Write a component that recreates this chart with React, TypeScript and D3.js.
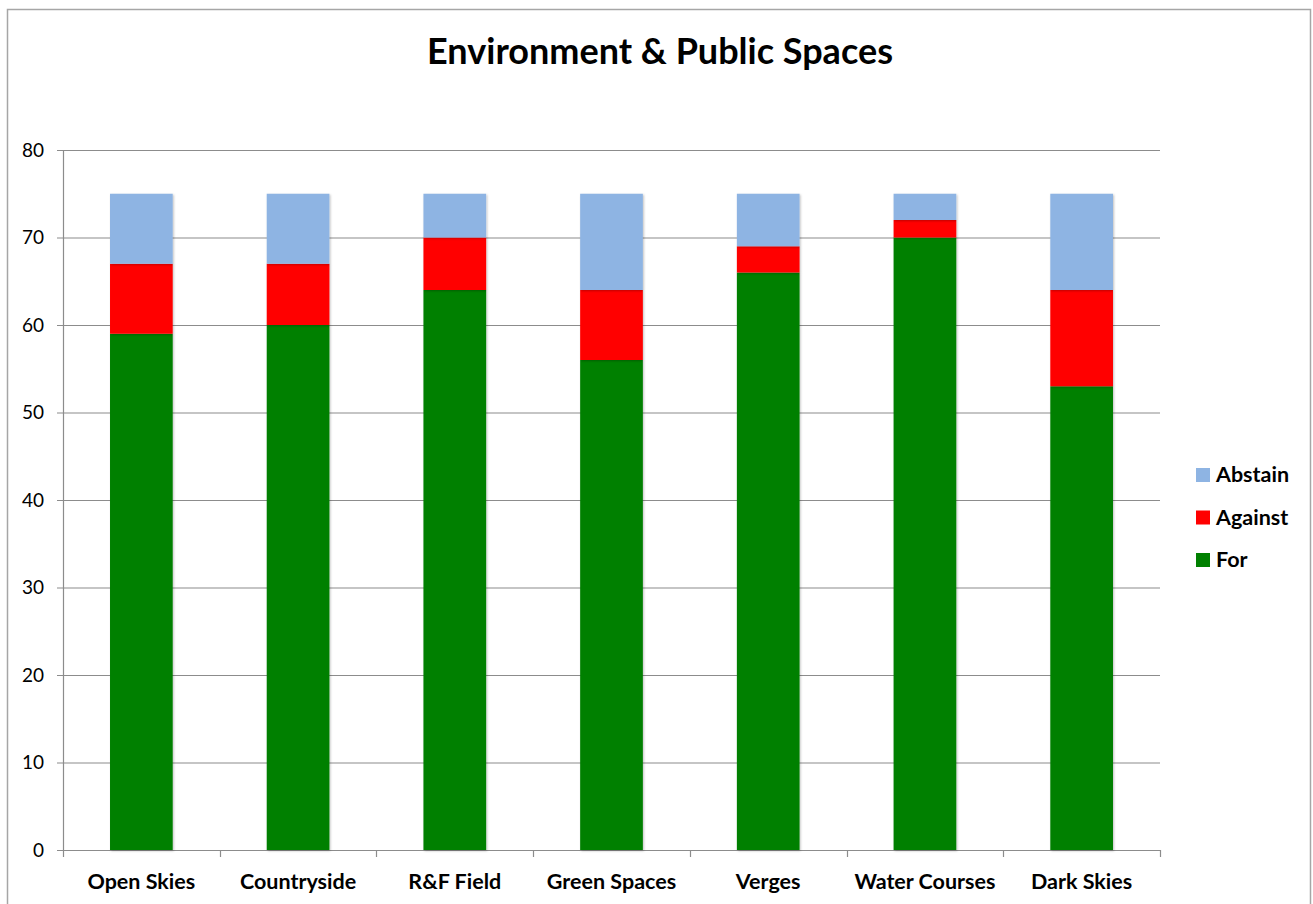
import * as d3 from "d3";
import { useEffect, useRef } from "react";

const categories = ["Open Skies", "Countryside", "R&F Field", "Green Spaces", "Verges", "Water Courses", "Dark Skies"];
const forValues = [59, 60, 64, 56, 66, 70, 53];
const againstValues = [8, 7, 6, 8, 3, 2, 11];
const abstainValues = [8, 8, 5, 11, 6, 3, 11];
const seriesNames = ["For", "Against", "Abstain"];
const seriesColors = ["#008000", "#ff0000", "#8eb4e3"];
const yTicks = [0, 10, 20, 30, 40, 50, 60, 70, 80];

function App() {
	const ref = useRef<SVGSVGElement>(null);

	useEffect(() => {
		const svg = d3.select(ref.current);
		svg.selectAll("*").remove();
		const font = "Lato, 'Open Sans', sans-serif";

		// outer chart border
		svg.append("rect")
			.attr("x", 7.5)
			.attr("y", 9.5)
			.attr("width", 1303)
			.attr("height", 910)
			.attr("fill", "white")
			.attr("stroke", "#a6a6a6")
			.attr("stroke-width", 1.5);

		svg.append("text")
			.attr("x", 660)
			.attr("y", 64)
			.attr("text-anchor", "middle")
			.style("font-family", font)
			.style("font-weight", "bold")
			.style("font-size", "36px")
			.text("Environment & Public Spaces");

		const left = 63;
		const right = 1160;
		const top = 150;
		const bottom = 850;

		const x = d3.scaleBand().domain(categories).range([left, right]).paddingInner(0.6).paddingOuter(0.3);
		const y = d3.scaleLinear().domain([0, 80]).range([bottom, top]);

		const defs = svg.append("defs");
		const filter = defs.append("filter").attr("id", "shadow").attr("x", "-10%").attr("y", "-10%").attr("width", "120%").attr("height", "120%");
		filter.append("feDropShadow").attr("dx", 1).attr("dy", 1).attr("stdDeviation", 1.2).attr("flood-color", "#000").attr("flood-opacity", 0.25);

		// gridlines
		svg.append("g")
			.selectAll("line")
			.data(yTicks)
			.enter()
			.append("line")
			.attr("x1", left - 6)
			.attr("x2", right)
			.attr("y1", (d) => y(d) + 0.5)
			.attr("y2", (d) => y(d) + 0.5)
			.attr("stroke", "#8c8c8c")
			.attr("stroke-width", 1.2);

		// y axis line
		svg.append("line")
			.attr("x1", left + 0.5)
			.attr("x2", left + 0.5)
			.attr("y1", top)
			.attr("y2", bottom)
			.attr("stroke", "#8c8c8c")
			.attr("stroke-width", 1.2);

		svg.append("g")
			.selectAll("text")
			.data(yTicks)
			.enter()
			.append("text")
			.attr("x", 44)
			.attr("y", (d) => y(d) + 6.5)
			.attr("text-anchor", "end")
			.style("font-family", font)
			.style("font-size", "19px")
			.text((d) => d);

		// x tick marks at band boundaries
		const step = (right - left) / categories.length;
		const boundaries = d3.range(categories.length + 1).map((i) => left + i * step);
		svg.append("g")
			.selectAll("line")
			.data(boundaries)
			.enter()
			.append("line")
			.attr("x1", (d) => Math.round(d) + 0.5)
			.attr("x2", (d) => Math.round(d) + 0.5)
			.attr("y1", bottom)
			.attr("y2", bottom + 7)
			.attr("stroke", "#8c8c8c")
			.attr("stroke-width", 1.2);

		const table = categories.map((c, i) => ({
			category: c,
			For: forValues[i],
			Against: againstValues[i],
			Abstain: abstainValues[i],
		}));
		const stacked = d3.stack<any>().keys(seriesNames)(table);

		svg.append("g")
			.selectAll("g")
			.data(stacked)
			.enter()
			.append("g")
			.attr("fill", (_, i) => seriesColors[i])
			.selectAll("rect")
			.data((d) => d)
			.enter()
			.append("rect")
			.attr("x", (d) => x(d.data.category)!)
			.attr("width", x.bandwidth())
			.attr("y", (d) => y(d[1]))
			.attr("height", (d) => y(d[0]) - y(d[1]))
			.attr("filter", "url(#shadow)");

		svg.append("g")
			.selectAll("text")
			.data(categories)
			.enter()
			.append("text")
			.attr("x", (d) => x(d)! + x.bandwidth() / 2)
			.attr("y", 889)
			.attr("text-anchor", "middle")
			.style("font-family", font)
			.style("font-weight", "bold")
			.style("font-size", "21.5px")
			.text((d) => d);

		// legend
		const legendItems = [2, 1, 0];
		const legend = svg.append("g")
			.selectAll("g")
			.data(legendItems)
			.enter()
			.append("g")
			.attr("transform", (_, i) => "translate(1196," + (468 + i * 42.5) + ")");
		legend.append("rect")
			.attr("width", 14)
			.attr("height", 14)
			.attr("fill", (d) => seriesColors[d]);
		legend.append("text")
			.attr("x", 20)
			.attr("y", 14)
			.style("font-family", font)
			.style("font-weight", "bold")
			.style("font-size", "21.5px")
			.text((d) => seriesNames[d]);
	}, []);

	return (
		<svg
			ref={ref}
			width={1313}
			height={904}
			style={{ position: "absolute", left: 0, top: 0, background: "white" }}
		></svg>
	);
}

export default App;
